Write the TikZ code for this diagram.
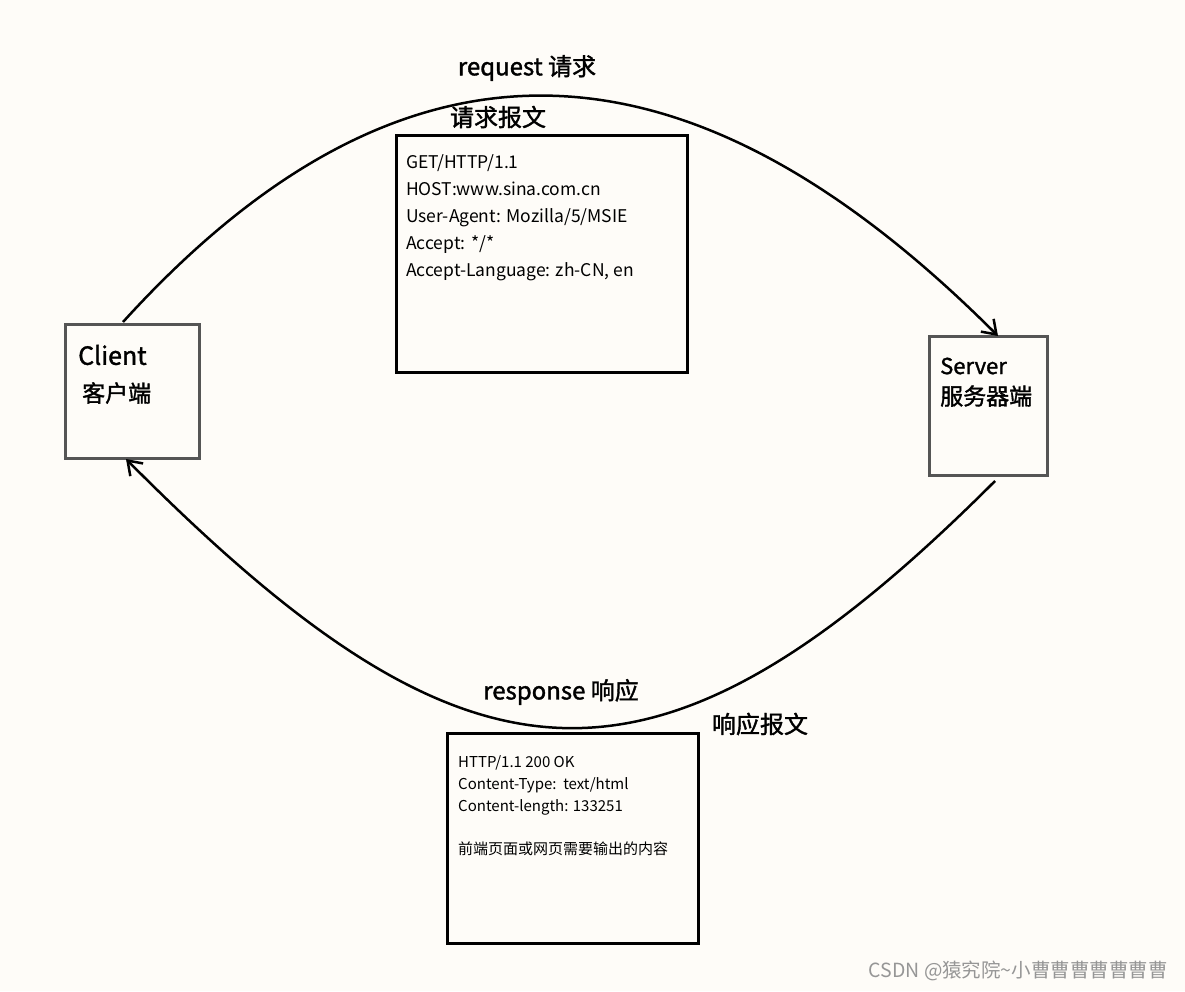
\documentclass[tikz,border=0pt]{standalone}
\usepackage{fontspec}
\setmainfont{Noto Sans CJK SC}
\newfontfamily\hand[FakeBold=1.5]{Noto Sans CJK SC}
\usetikzlibrary{arrows.meta}
\definecolor{bg}{RGB}{254,252,248}
\definecolor{boxgray}{RGB}{85,85,85}
\definecolor{wm}{RGB}{150,150,150}
\tikzset{
  msgbox/.style={draw=black,line width=3pt},
  endbox/.style={draw=boxgray,line width=3pt},
  flow/.style={draw=black,line width=2.5pt,-{Straight Barb[length=13pt,width=18pt,line width=2.5pt]}},
  handlbl/.style={font=\hand\fontsize{#1}{#1}\selectfont,inner sep=0pt},
  bodytxt/.style={align=left,inner sep=0pt,anchor=north west}
}
\begin{document}
\begin{tikzpicture}[x=1pt,y=-1pt]
\fill[bg] (0,0) rectangle (1185,991);
\useasboundingbox (0,0) rectangle (1185,991);
% boxes
\draw[msgbox] (396,135) rectangle (687,372);
\draw[endbox] (65,324) rectangle (199,458);
\draw[endbox] (929,336) rectangle (1047,475);
\draw[msgbox] (447,733) rectangle (698,943);
\coordinate (cTop) at (123,322);
\coordinate (sTop) at (998,336);
\coordinate (sBot) at (995,481);
\coordinate (cBot) at (126,459);
% arcs
\draw[flow] (cTop) .. controls (412,4) and (695,33) .. (sTop);
\draw[flow] (sBot) .. controls (652,824) and (468,803) .. (cBot);
% handwritten labels
\node[handlbl=24] (req) at (527,68) {request 请求};
\node[handlbl=24] (reqmsg) at (498,117) {请求报文};
\node[handlbl=25,anchor=west] (cli) at (78,355) {Client};
\node[handlbl=23,anchor=west] (clicn) at (82,393) {客户端};
\node[handlbl=22,anchor=west] (srv) at (940,366) {Server};
\node[handlbl=23,anchor=west] (srvcn) at (940,396) {服务器端};
\node[handlbl=24] (resp) at (561,692) {response 响应};
\node[handlbl=24] (respmsg) at (760,724) {响应报文};
% box texts
\node[bodytxt,font=\fontsize{17.5}{27}\selectfont] (reqtxt) at (406,154) {GET/HTTP/1.1\\HOST:www.sina.com.cn\\User-Agent: Mozilla/5/MSIE\\Accept: */*\\Accept-Language: zh-CN, en};
\node[bodytxt,font=\fontsize{15}{22}\selectfont] (resptxt) at (458,755) {HTTP/1.1 200 OK\\Content-Type:\ \ text/html\\Content-length: 133251\\[21pt]前端页面或网页需要输出的内容};
% watermark
\node[anchor=east,text=wm,font=\fontsize{19.5}{19.5}\selectfont,inner sep=0pt] (wmark) at (1168,971) {CSDN @猿究院\textasciitilde 小曹曹曹曹曹曹曹};
\end{tikzpicture}
\end{document}
